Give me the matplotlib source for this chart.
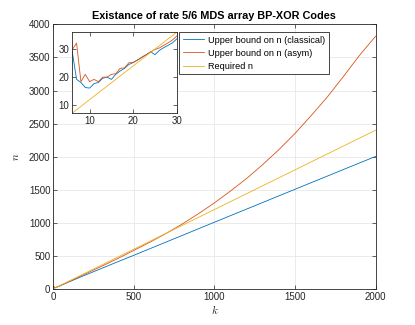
import matplotlib.pyplot as plt

# k values: every k for the zoomed range, then every 100
k = [6, 7, 8, 9, 10, 11, 12, 13, 14, 15, 16, 17, 18, 19, 20,
     21, 22, 23, 24, 25, 26, 27, 28, 29, 30,
     100, 200, 300, 400, 500, 600, 700, 800, 900, 1000,
     1100, 1200, 1300, 1400, 1500, 1600, 1700, 1800, 1900, 2000]

n_classical = [29.2, 19.2, 18.1, 16.3, 16.1, 17.7, 18.1, 19.6, 20.0, 19.2,
               21.0, 22.2, 23.1, 24.5, 25.2, 26.1, 27.1, 28.0, 29.0, 28.0,
               29.5, 30.5, 31.3, 32.2, 33.6,
               108, 210, 310, 410, 508, 608, 708, 808, 908, 1008,
               1108, 1207, 1307, 1407, 1506, 1606, 1705, 1805, 1904, 2003]

n_asym = [29.8, 32.1, 18.4, 21.0, 18.4, 19.2, 18.4, 20.0, 20.0, 21.0,
          21.2, 23.1, 23.3, 25.1, 25.2, 26.1, 27.1, 28.0, 29.0, 29.8,
          30.4, 31.3, 32.2, 33.2, 34.6,
          114, 228, 342, 458, 582, 706, 838, 980, 1135, 1300,
          1480, 1670, 1880, 2105, 2350, 2620, 2900, 3210, 3530, 3820]

n_required = [7.2, 8.4, 9.6, 10.8, 12.0, 13.2, 14.4, 15.6, 16.8, 18.0,
              19.2, 20.4, 21.6, 22.8, 24.0, 25.2, 26.4, 27.6, 28.8, 30.0,
              31.2, 32.4, 33.6, 34.8, 36.0,
              120, 240, 360, 480, 600, 720, 840, 960, 1080, 1200,
              1320, 1440, 1560, 1680, 1800, 1920, 2040, 2160, 2280, 2400]

labels = ['Upper bound on n (classical)', 'Upper bound on n (asym)', 'Required n']
colors = ['#0072BD', '#D95319', '#EDB120']
series = [n_classical, n_asym, n_required]

plt.rcParams['font.family'] = ['Liberation Sans', 'DejaVu Sans']
plt.rcParams['mathtext.fontset'] = 'cm'

axis_grey = '#262626'


def style_axes(ax):
    for side in ax.spines.values():
        side.set_color(axis_grey)
        side.set_linewidth(0.6)
    ax.tick_params(
        direction='in', length=3, width=0.5, colors=axis_grey,
        labelsize=7, top=True, right=True, pad=2,
    )


fig = plt.figure(figsize=(4.15, 3.25), dpi=100)
ax = fig.add_axes([0.128, 0.111, 0.777, 0.814])

for vals, lab, col in zip(series, labels, colors):
    ax.plot(k, vals, color=col, linewidth=0.6, label=lab)

ax.set_xlim(0, 2000)
ax.set_ylim(0, 4000)
ax.set_xticks([0, 500, 1000, 1500, 2000])
ax.set_yticks([0, 500, 1000, 1500, 2000, 2500, 3000, 3500, 4000])
ax.grid(which='major', color='#e3e3e3', linewidth=0.5)
ax.set_axisbelow(True)
style_axes(ax)

ax.set_title('Existance of rate 5/6 MDS array BP-XOR Codes',
             fontsize=7.8, fontweight='bold', pad=4)
ax.set_xlabel('$k$', fontsize=8, labelpad=1, color=axis_grey)
ax.set_ylabel('$n$', fontsize=8, labelpad=6, color=axis_grey)

leg = ax.legend(
    loc='upper left',
    bbox_to_anchor=(0.431, 0.902),
    bbox_transform=fig.transFigure,
    fontsize=6.6,
    frameon=True,
    fancybox=False,
    framealpha=1,
    edgecolor=axis_grey,
    handlelength=2.3,
    handletextpad=0.5,
    labelspacing=0.45,
    borderpad=0.4,
    borderaxespad=0,
)
leg.get_frame().set_linewidth(0.6)

# zoomed inset for small k
inset = fig.add_axes([0.174, 0.652, 0.252, 0.249])
for vals, col in zip(series, colors):
    inset.plot(k, vals, color=col, linewidth=0.6)
inset.set_xlim(6, 30)
inset.set_ylim(7.2, 36)
inset.set_xticks([10, 20, 30])
inset.set_yticks([10, 20, 30])
style_axes(inset)

fig.savefig('out.png', dpi=100)
